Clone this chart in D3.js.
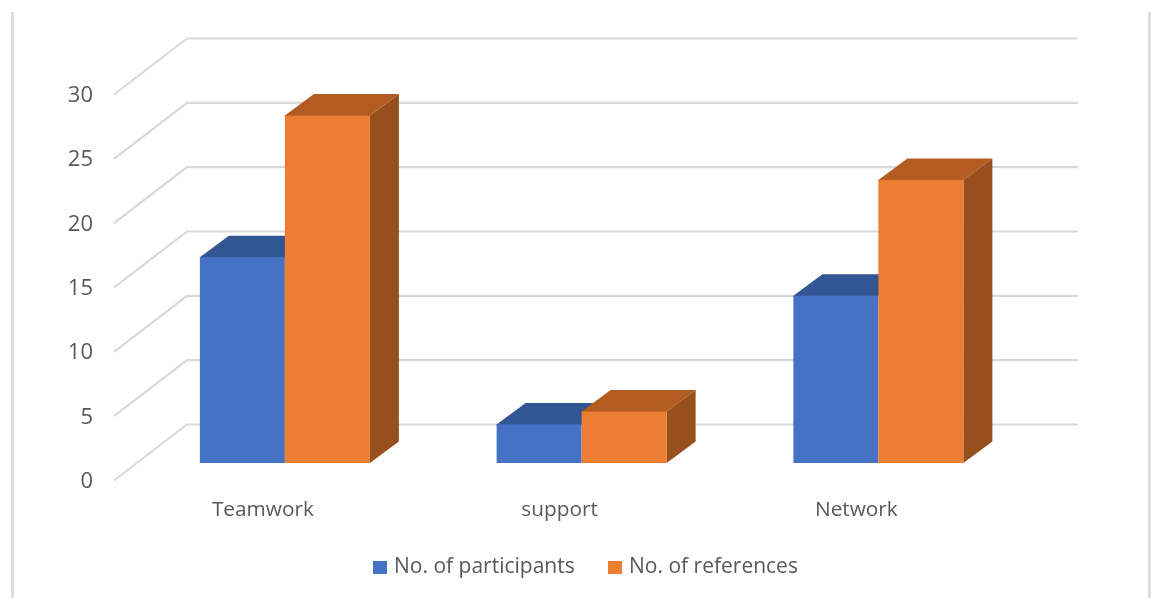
<!DOCTYPE html>
<html><head><meta charset="utf-8">
<script src="https://cdn.jsdelivr.net/npm/d3@7/dist/d3.min.js"></script>
<style>html,body{margin:0;padding:0;background:#fff}svg{display:block}text{font-family:"Open Sans",sans-serif;fill:#595959}</style>
</head><body><div id="chart"></div>
<script>
const categories = ["Teamwork", "support", "Network"];
const seriesNames = ["No. of participants", "No. of references"];
const participants = [16, 3, 13];
const references = [27, 4, 22];
const tickValues = [0, 5, 10, 15, 20, 25, 30];
const frontColors = ["#4472c4", "#ed7d31"];
const topColors = ["#335593", "#b35c20"];
const sideColors = ["#2f5597", "#974f1b"];
const W = 1154, H = 598;
const svg = d3.select("#chart").append("svg").attr("width", W).attr("height", H);
svg.append("defs").append("filter").attr("id","soft")
  .attr("filterUnits","userSpaceOnUse").attr("x",0).attr("y",0).attr("width",W).attr("height",H)
  .append("feGaussianBlur").attr("stdDeviation",0.5);
const root = svg.append("g").attr("filter","url(#soft)");

// value scale: height above the floor
const y = d3.scaleLinear().domain([0, 30]).range([480.5, 94.5]);
const unit = y(0) - y(1);
const wallDx = 73, wallDy = -56, barDx = 29, barDy = -21.5, baseY = 463;
const x0 = d3.scaleBand().domain(categories).range([136.5, 1026.75]);
const x1 = d3.scaleBand().domain([0, 1]).range([-85, 85]);

// frame
root.append("g").selectAll("line").data([12.5, 1149.5]).join("line")
  .attr("x1", d => d).attr("x2", d => d).attr("y1", 12).attr("y2", H)
  .attr("stroke", "#d9d9d9").attr("stroke-width", 2.6);

// gridlines
const grid = root.append("g").attr("fill", "none").attr("stroke", "#d9d9d9").attr("stroke-width", 2.2);
grid.selectAll("path").data(tickValues).join("path")
  .attr("d", v => d3.line()([[114, y(v)], [114 + wallDx, y(v) + wallDy], [1078, y(v) + wallDy]]));

// y axis labels
const axis = d3.axisLeft(y).tickValues(tickValues).tickSize(0).tickPadding(0);
const ax = root.append("g").attr("transform", "translate(93,0)").call(axis);
ax.select(".domain").remove();
ax.selectAll("text").attr("font-size", 22).style("font-family", '"Open Sans",sans-serif').attr("fill", "#595959").attr("dy", "0.32em");

// bars
const seriesValues = [participants, references];
const bars = [];
seriesValues.forEach((vals, s) => vals.forEach((v, c) => bars.push({s, c, v})));
const g = root.append("g");
bars.sort((a, b) => a.c - b.c || a.s - b.s).forEach(d => {
  const cx = x0(categories[d.c]) + x0.bandwidth() / 2;
  const xl = cx + x1(d.s), xr = xl + x1.bandwidth();
  const top = baseY - d.v * unit;
  const gb = g.append("g");
  if (d.s === 1) gb.append("path").attr("fill", sideColors[d.s])
    .attr("d", d3.line()([[xr, baseY], [xr + barDx, baseY + barDy], [xr + barDx, top + barDy], [xr, top]]) + "Z");
  gb.append("path").attr("fill", topColors[d.s])
    .attr("d", d3.line()([[xl, top + 1], [xl, top], [xl + barDx, top + barDy], [xr + barDx, top + barDy], [xr, top], [xr, top + 1]]) + "Z");
  gb.append("rect").attr("x", xl).attr("y", top).attr("width", xr - xl).attr("height", baseY - top).attr("fill", frontColors[d.s]);
});

// category labels
root.append("g").selectAll("text").data(categories).join("text")
  .attr("x", d => x0(d) + x0.bandwidth() / 2 - 22).attr("y", 515.5)
  .attr("text-anchor", "middle").attr("font-size", 20.8).text(d => d);

// legend
const legendX = [373, 608];
const leg = root.append("g").selectAll("g").data(seriesNames).join("g")
  .attr("transform", (d, i) => `translate(${legendX[i]},0)`);
leg.append("rect").attr("y", 561).attr("width", 14).attr("height", 13).attr("fill", (d, i) => frontColors[i]);
leg.append("text").attr("x", 21).attr("y", 573).attr("font-size", 21).text(d => d);
</script></body></html>
